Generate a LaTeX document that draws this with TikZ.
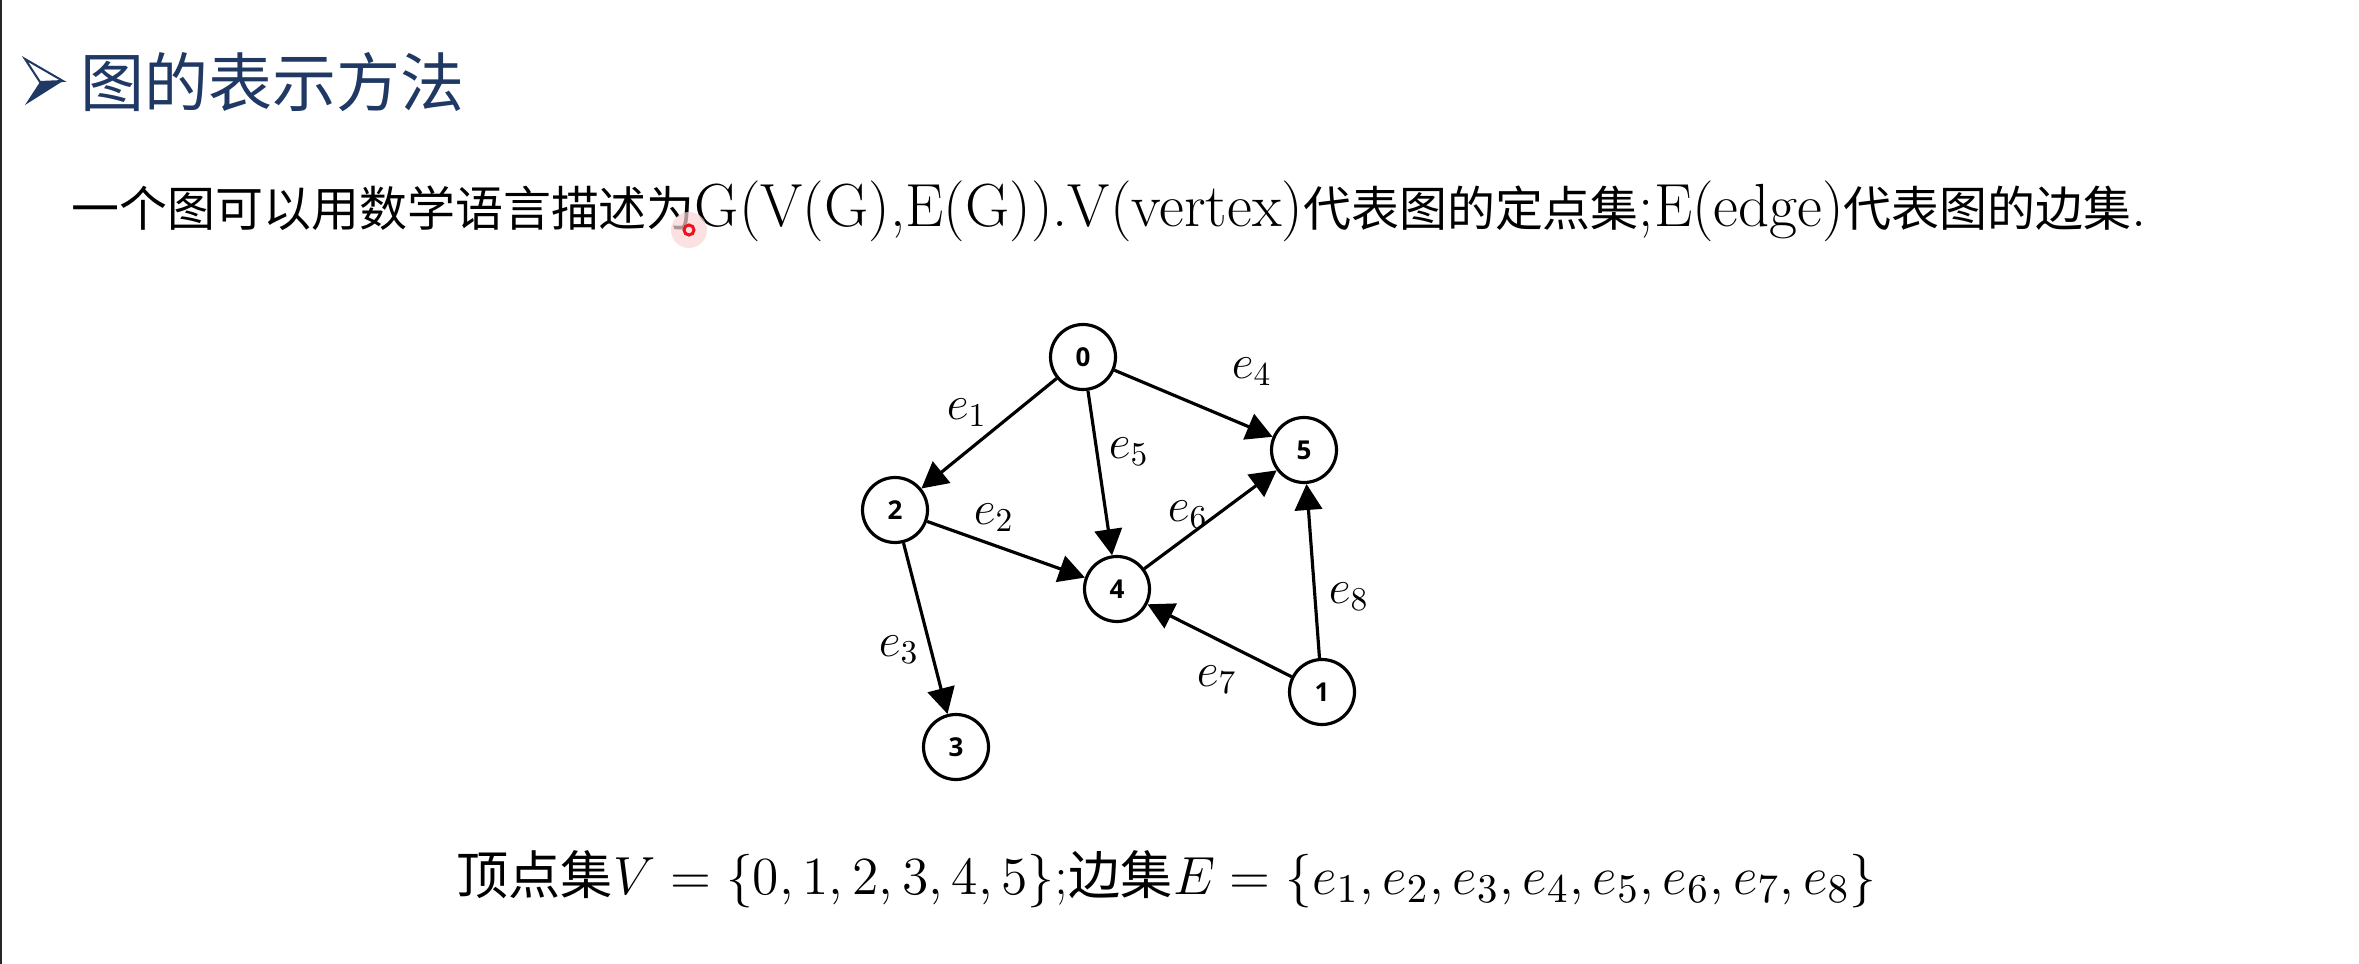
\documentclass[tikz,border=0pt]{standalone}
\usepackage{fontspec}
\usepackage{graphicx}
\usetikzlibrary{arrows.meta}
\newfontfamily\cjk{Noto Sans CJK SC}
\newfontfamily\numfont{Open Sans}
\definecolor{titleblue}{RGB}{32,56,100}
\definecolor{cursorred}{RGB}{235,20,30}
\begin{document}
\begin{tikzpicture}[x=0.3pt,y=-0.3pt,
  vtx/.style={circle,draw,line width=0.95pt,minimum size=19.5pt,inner sep=0pt,
    font=\numfont\bfseries\fontsize{7.8}{8}\selectfont},
  edgearrow/.style={line width=0.95pt,-{Triangle[length=7.8pt,width=8.2pt]}},
  elab/.style={inner sep=0pt,font=\fontsize{13.8}{14}\selectfont}]
\fill[white] (0,0) rectangle (2359,964);
\useasboundingbox (0,0) rectangle (2359,964);
% left border
\draw[line width=0.6pt,black!85] (1,0) -- (1,964);
% title bullet
\fill[titleblue] (40,82) -- (63,81) -- (25,105) -- cycle;
\draw[titleblue,line width=0.6pt,line join=miter] (25,59) -- (63,81) -- (40,82) -- cycle;
\node[anchor=west,inner sep=0pt,text=titleblue,font=\cjk\fontsize{19.2}{20}\selectfont] (title) at (80,82) {图的表示方法};
% body line
\node[anchor=base west,inner sep=0pt] (body) at (71,227) {\resizebox{622.5pt}{!}{\fontsize{16.9}{17}\selectfont
  {\cjk\fontsize{13.3}{15}\selectfont 一个图可以用数学语言描述为}G(V(G),E(G)).V(vertex){\cjk\fontsize{13.3}{15}\selectfont 代表图的定点集};E(edge){\cjk\fontsize{13.3}{15}\selectfont 代表图的边集}.}};
% cursor mark
\fill[cursorred!18,opacity=0.7] (689,230) circle[radius=18];
\draw[cursorred,line width=0.9pt] (689,230) circle[radius=5];
% graph
\node[vtx] (n0) at (1083,357) {0};
\node[vtx] (n5) at (1304,450) {5};
\node[vtx] (n2) at (895,510) {2};
\node[vtx] (n4) at (1117,589) {4};
\node[vtx] (n1) at (1322,692) {1};
\node[vtx] (n3) at (956,747) {3};
\draw[edgearrow] (n0) -- (n2);
\draw[edgearrow] (n2) -- (n4);
\draw[edgearrow] (n2) -- (n3);
\draw[edgearrow] (n0) -- (n5);
\draw[edgearrow] (n0) -- (n4);
\draw[edgearrow] (n4) -- (n5);
\draw[edgearrow] (n1) -- (n4);
\draw[edgearrow] (n1) -- (n5);
\node[elab] (l1) at (967,413) {$e_1$};
\node[elab] (l2) at (994,518) {$e_2$};
\node[elab] (l3) at (899,650) {$e_3$};
\node[elab] (l4) at (1252,372) {$e_4$};
\node[elab] (l5) at (1129,452) {$e_5$};
\node[elab] (l6) at (1188,515) {$e_6$};
\node[elab] (l7) at (1217,680) {$e_7$};
\node[elab] (l8) at (1349,597) {$e_8$};
% bottom formula
\node[anchor=base west,inner sep=0pt] (sets) at (456,894) {\resizebox{426pt}{!}{\fontsize{15}{16}\selectfont
  {\cjk\fontsize{14}{15}\selectfont 顶点集}$V=\{0,1,2,3,4,5\}$;{\cjk\fontsize{14}{15}\selectfont 边集}$E=\{e_1,e_2,e_3,e_4,e_5,e_6,e_7,e_8\}$}};
\end{tikzpicture}
\end{document}
